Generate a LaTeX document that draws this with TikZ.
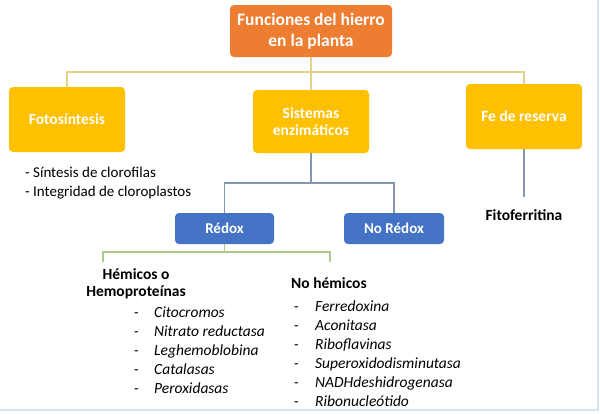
\documentclass[tikz,border=0pt]{standalone}
\usepackage{fontspec}
\setmainfont{Carlito}
\definecolor{orangebox}{HTML}{ED7D31}
\definecolor{yellowbox}{HTML}{FFC000}
\definecolor{bluebox}{HTML}{4472C4}
\definecolor{yline}{HTML}{E2D28A}
\definecolor{bline}{HTML}{8497B0}
\definecolor{gline}{HTML}{A9C98A}
\definecolor{frame}{HTML}{DCE4EC}
\tikzset{
  box/.style={rounded corners=4pt, inner sep=0pt, align=center, text=white, font=\fontsize{15.5}{17}\selectfont\bfseries},
  topbox/.style={box, fill=orangebox, minimum width=162pt, minimum height=52pt, font=\fontsize{17.5}{21}\selectfont\bfseries},
  ybox/.style={box, fill=yellowbox, minimum width=116pt, minimum height=65pt},
  bbox/.style={box, fill=bluebox, minimum width=100pt, minimum height=31pt, font=\fontsize{15}{17}\selectfont\bfseries},
  yconn/.style={draw=yline, line width=1.5pt},
  bconn/.style={draw=bline, line width=1.5pt},
  gconn/.style={draw=gline, line width=1.5pt},
  btxt/.style={inner sep=0pt, font=\fontsize{15.5}{17}\selectfont\bfseries},
  dashtxt/.style={inner sep=0pt, anchor=base west, font=\fontsize{15}{19}\selectfont},
  itxt/.style={inner sep=0pt, anchor=base west, font=\fontsize{15.5}{19}\selectfont\itshape}
}
\begin{document}
\begin{tikzpicture}[x=1pt,y=-1pt]
\useasboundingbox (0,0) rectangle (600,413);
\fill[white] (0,0) rectangle (600,413);
\draw[frame, line width=1.5pt] (598,0) -- (598,410) -- (0,410);

% boxes
\node[topbox] (top) at (311,31) {Funciones del hierro\\en la planta};
\node[ybox] (foto) at (67,119.5) {Fotosíntesis};
\node[ybox, minimum height=63pt] (sist) at (311,121.5) {Sistemas\\enzimáticos};
\node[ybox] (fe) at (524,116.5) {Fe de reserva};
\node[bbox, minimum width=99pt] (redox) at (224.5,228.5) {Rédox};
\node[bbox] (noredox) at (394,228.5) {No Rédox};

% coordinates
\coordinate (ybus) at (311,72);
\coordinate (bbus) at (311,183);
\coordinate (gbus) at (224.5,252);
\coordinate (gl) at (103,262);
\coordinate (gr) at (330,262);
\coordinate (feend) at (524,197);

% yellow connectors
\draw[yconn] (top.south) -- (sist.north);
\draw[yconn] (foto.north) -- (foto.north |- ybus) -- (fe.north |- ybus) -- (fe.north);

% blue connectors
\draw[bconn] (sist.south) -- (bbus);
\draw[bconn] (redox.north) -- (redox.north |- bbus) -- (noredox.north |- bbus) -- (noredox.north);
\draw[bconn] (fe.south) -- (feend);

% green connectors
\draw[gconn] (redox.south) -- (gbus);
\draw[gconn] (gl) -- (gl |- gbus) -- (gr |- gbus) -- (gr);

% texts
\node[dashtxt] (s1) at (25,177.5) {- Síntesis de clorofilas};
\node[dashtxt] (s2) at (25,196.5) {- Integridad de cloroplastos};
\node[btxt] (fito) at (524,215) {Fitoferritina};
\node[btxt, align=center] (hem) at (136,283.5) {Hémicos o\\Hemoproteínas};
\node[btxt, anchor=west] (nohem) at (291,283) {No hémicos};

% left list
\foreach \y/\t [count=\i] in {313/Citocromos, 332/Nitrato reductasa, 351/Leghemoblobina, 370/Catalasas, 389/Peroxidasas}{
  \node[dashtxt] (ld\i) at (134,\y+4.5) {-};
  \node[itxt] (li\i) at (154,\y+4.5) {\t};
}
% right list
\foreach \y/\t [count=\i] in {307/Ferredoxina, 326/Aconitasa, 345/Riboflavinas, 364/Superoxidodisminutasa, 383/NADHdeshidrogenasa, 402/Ribonucleótido}{
  \node[dashtxt] (rd\i) at (294,\y+4.5) {-};
  \node[itxt] (ri\i) at (315,\y+4.5) {\t};
}
\end{tikzpicture}
\end{document}
